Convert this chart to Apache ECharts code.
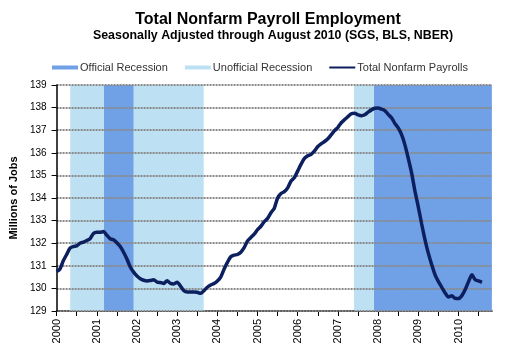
<!DOCTYPE html>
<html>
<head>
<meta charset="utf-8">
<script src="https://cdn.jsdelivr.net/npm/echarts@6/dist/echarts.min.js"></script>
<style>
html,body{margin:0;padding:0;background:#fff;}
#chart{width:508px;height:357px;}
</style>
</head>
<body>
<div id="chart"></div>
<script>
// Monthly Total Nonfarm Payrolls, millions, Jan 2000 .. Aug 2010
var startYear = 2000;
var payrolls = [
  // 2000
  130.75, 130.86, 131.22, 131.50, 131.78, 131.85, 131.88, 132.00, 132.05, 132.12, 132.20, 132.43,
  // 2001
  132.48, 132.48, 132.52, 132.35, 132.20, 132.15, 132.02, 131.85, 131.60, 131.30, 130.95, 130.72,
  // 2002
  130.55, 130.43, 130.36, 130.33, 130.35, 130.38, 130.28, 130.26, 130.22, 130.34, 130.22, 130.20,
  // 2003
  130.27, 130.10, 129.90, 129.84, 129.84, 129.84, 129.83, 129.78, 129.90, 130.05, 130.15, 130.22,
  // 2004
  130.33, 130.50, 130.85, 131.15, 131.40, 131.47, 131.50, 131.60, 131.80, 132.10, 132.25, 132.40,
  // 2005
  132.60, 132.75, 132.95, 133.10, 133.35, 133.55, 134.00, 134.20, 134.28, 134.45, 134.75, 134.90,
  // 2006
  135.20, 135.50, 135.75, 135.87, 135.93, 136.08, 136.28, 136.40, 136.50, 136.62, 136.80, 136.98,
  // 2007
  137.13, 137.33, 137.47, 137.60, 137.73, 137.75, 137.68, 137.64, 137.68, 137.80, 137.90, 137.97,
  // 2008
  137.98, 137.93, 137.87, 137.70, 137.55, 137.30, 137.10, 136.80, 136.35, 135.75, 135.10, 134.30,
  // 2009
  133.60, 132.85, 132.15, 131.55, 131.05, 130.60, 130.30, 130.05, 129.80, 129.62, 129.67, 129.56,
  // 2010
  129.55, 129.68, 129.95, 130.30, 130.60, 130.38, 130.33, 130.27
];
// Recession periods (fractional years, start/end)
var officialRecessions = [[2001.18, 2001.92], [2007.89, 2010.83]];
var unofficialRecessions = [[2000.34, 2001.18], [2001.92, 2003.66], [2007.40, 2007.89]];
var yearLabels = [2000, 2001, 2002, 2003, 2004, 2005, 2006, 2007, 2008, 2009, 2010];
var xMin = 2000, xMax = 2010.833;
var yMin = 129, yMax = 139, yStep = 1;

var lineData = payrolls.map(function (v, i) { return [startYear + i / 12, v]; });
var tickValues = [];
yearLabels.forEach(function (y) { tickValues.push(y); tickValues.push(y + 0.5); });

function toAreas(list) {
  return list.map(function (p) { return [{ xAxis: p[0] }, { xAxis: p[1] }]; });
}

var FONT = '"Liberation Sans", Arial, sans-serif';
var OFFICIAL = '#70a0e6';
var UNOFFICIAL = '#bde1f2';
var NAVY = '#0c1f5e';

var chart = echarts.init(document.getElementById('chart'), null, { renderer: 'canvas' });
chart.setOption({
  animation: false,
  backgroundColor: '#ffffff',
  textStyle: { fontFamily: FONT },
  title: [
    { text: 'Total Nonfarm Payroll Employment', left: 268, top: 12, textAlign: 'center', padding: 0,
      textStyle: { fontFamily: FONT, fontSize: 16, fontWeight: 'bold', color: '#000' } },
    { text: 'Seasonally Adjusted through August 2010 (SGS, BLS, NBER)', left: 273, top: 30, textAlign: 'center', padding: 0,
      textStyle: { fontFamily: FONT, fontSize: 12.4, fontWeight: 'bold', color: '#000' } }
  ],
  legend: {
    left: 52, top: 62, padding: 0, itemGap: 17, itemWidth: 26, itemHeight: 4,
    textStyle: { fontFamily: FONT, fontSize: 11, color: '#333', padding: [0, 0, 0, -3] },
    data: [
      { name: 'Official Recession', icon: 'rect', itemStyle: { color: OFFICIAL } },
      { name: 'Unofficial Recession', icon: 'rect', itemStyle: { color: UNOFFICIAL } },
      { name: 'Total Nonfarm Payrolls', icon: 'path://M0,0H26V0.01H0ZM0,1H26V3H0ZM0,3.99H26V4H0Z', itemStyle: { color: NAVY } }
    ]
  },
  grid: { left: 53, right: 16, top: 85, bottom: 46, containLabel: false },
  xAxis: {
    type: 'value', min: xMin, max: xMax,
    axisLine: { show: true, lineStyle: { color: '#000', width: 1.5 } },
    axisTick: { show: true, inside: false, length: 5, customValues: tickValues, lineStyle: { color: '#000' } },
    axisLabel: { customValues: yearLabels, rotate: 90, margin: 8, fontFamily: FONT, fontSize: 11, color: '#000',
      formatter: function (v) { return String(Math.round(v)); } },
    splitLine: { show: false }
  },
  yAxis: {
    type: 'value', min: yMin, max: yMax, interval: yStep, z: 3,
    name: 'Millions of Jobs', nameLocation: 'middle', nameGap: 32,
    nameTextStyle: { fontFamily: FONT, fontSize: 11, fontWeight: 'bold', color: '#000' },
    axisLine: { show: true, lineStyle: { color: '#000', width: 1.5 } },
    axisTick: { show: true, inside: false, length: 5, lineStyle: { color: '#000' } },
    axisLabel: { margin: 10, fontFamily: FONT, fontSize: 10, color: '#000' },
    splitLine: { show: true, lineStyle: { color: '#8a8a8a', width: 1.8, type: [2, 1] } }
  },
  series: [
    { name: 'Official Recession', type: 'line', data: [], z: 1,
      itemStyle: { color: OFFICIAL },
      markArea: { silent: true, itemStyle: { color: OFFICIAL }, data: toAreas(officialRecessions) } },
    { name: 'Unofficial Recession', type: 'line', data: [], z: 1,
      itemStyle: { color: UNOFFICIAL },
      markArea: { silent: true, itemStyle: { color: UNOFFICIAL }, data: toAreas(unofficialRecessions) } },
    { name: 'Total Nonfarm Payrolls', type: 'line', data: lineData, z: 5,
      showSymbol: false, symbol: 'none', smooth: 0.25,
      lineStyle: { color: NAVY, width: 3.5 }, itemStyle: { color: NAVY } }
  ]
});
</script>
</body>
</html>
